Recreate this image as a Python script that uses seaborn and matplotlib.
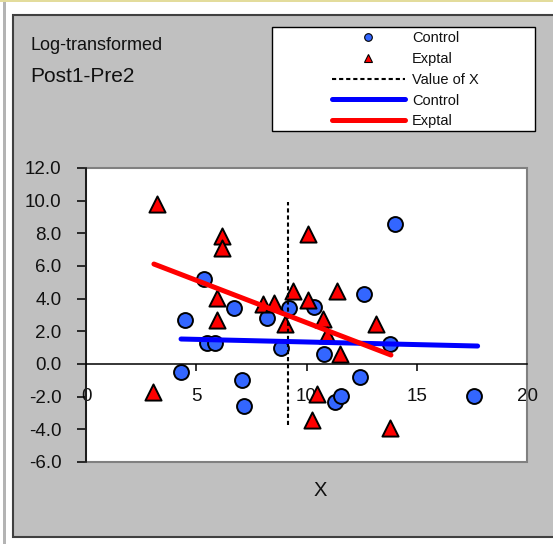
import matplotlib
matplotlib.use("Agg")
import matplotlib.pyplot as plt
from matplotlib.lines import Line2D
from matplotlib.patches import Rectangle
import seaborn as sns

# ==================== Data ====================
control_x = [5.35, 6.69, 4.47, 5.48, 5.83, 4.31, 7.06, 7.18, 8.84, 8.21,
             9.22, 10.35, 12.63, 14.03, 13.80, 10.79, 12.41, 11.28, 11.56, 17.59]
control_y = [5.19, 3.41, 2.71, 1.29, 1.29, -0.51, -0.96, -2.60, 0.98, 2.79,
             3.41, 3.49, 4.31, 8.57, 1.23, 0.62, -0.82, -2.34, -1.95, -1.95]

exptal_x = [3.24, 6.17, 6.17, 5.95, 5.93, 3.04, 8.01, 8.54, 9.04, 9.37,
            10.05, 10.05, 11.37, 10.77, 13.17, 10.95, 11.52, 10.47, 10.23, 13.77]
exptal_y = [9.81, 7.86, 7.10, 4.06, 2.67, -1.71, 3.69, 3.75, 2.46, 4.47,
            7.96, 3.90, 4.47, 2.73, 2.42, 1.80, 0.62, -1.85, -3.43, -3.90]

value_x_x = [9.17, 9.17]
value_x_y = [-3.75, 9.90]

control_fit_x = [4.31, 17.76]
control_fit_y = [1.53, 1.10]
exptal_fit_x = [3.08, 13.83]
exptal_fit_y = [6.12, 0.55]

x_ticks = [0, 5, 10, 15, 20]
y_ticks = [-6, -4, -2, 0, 2, 4, 6, 8, 10, 12]

legend_labels = ["Control", "Exptal", "Value of X", "Control", "Exptal"]

# ==================== Style ====================
sns.set_style("white")
plt.rcParams["font.family"] = ["Liberation Sans", "DejaVu Sans"]
plt.rcParams["axes.unicode_minus"] = False

COLOR_CTRL = "#3366FF"
COLOR_EXP = "#FF0000"
TEXT_COLOR = "#111111"

W, H = 553, 544
fig = plt.figure(figsize=(W / 100, H / 100), dpi=100, facecolor="white")

# outer frame decorations
fig.patches.append(Rectangle((0, 1 - 2 / H), 1, 2 / H, transform=fig.transFigure,
                             facecolor="#e3dc9c", edgecolor="none", zorder=-10))
fig.patches.append(Rectangle((3 / W, 0), 3 / W, 1 - 2 / H, transform=fig.transFigure,
                             facecolor="#b4b4b4", edgecolor="none", zorder=-10))
# chart area
fig.patches.append(Rectangle((13 / W, 1 - 537 / H), 1, (537 - 15) / H,
                             transform=fig.transFigure, facecolor="#c0c0c0",
                             edgecolor="#404040", linewidth=1.5, zorder=-9))
# legend box
fig.patches.append(Rectangle((272 / W, 1 - 131 / H), 263 / W, 104 / H,
                             transform=fig.transFigure, facecolor="white",
                             edgecolor="black", linewidth=1.0, zorder=-8))

ax = fig.add_axes([86 / W, 1 - 462 / H, (527 - 86) / W, (462 - 168) / H])
ax.set_facecolor("white")

sns.scatterplot(x=control_x, y=control_y, ax=ax, marker="o", s=115,
                color=COLOR_CTRL, edgecolor="black", linewidth=1.4, zorder=3)
sns.scatterplot(x=exptal_x, y=exptal_y, ax=ax, marker="^", s=135,
                color=COLOR_EXP, edgecolor="black", linewidth=1.4, zorder=4)
ax.plot(value_x_x, value_x_y, color="black", linewidth=1.5,
        linestyle=(0, (2.0, 1.4)), zorder=5)
sns.lineplot(x=control_fit_x, y=control_fit_y, ax=ax, color="#0000FF",
             linewidth=3.6, estimator=None, sort=False, zorder=6)
sns.lineplot(x=exptal_fit_x, y=exptal_fit_y, ax=ax, color=COLOR_EXP,
             linewidth=3.6, estimator=None, sort=False, zorder=7)

ax.set_xlim(0, 20)
ax.set_ylim(-6, 12)
ax.set_xticks(x_ticks)
ax.set_yticks(y_ticks)
ax.set_yticklabels([f"{v:.1f}" for v in y_ticks])
ax.set_xlabel("")
ax.set_ylabel("")

for side in ["top", "right"]:
    ax.spines[side].set_visible(False)
ax.spines["left"].set_color("black")
ax.spines["left"].set_linewidth(1.1)
ax.spines["bottom"].set_position(("data", 0))
ax.spines["bottom"].set_color("black")
ax.spines["bottom"].set_linewidth(1.1)
ax.add_patch(Rectangle((0, 0), 1, 1, transform=ax.transAxes, fill=False,
                       edgecolor="#808080", linewidth=1.5, clip_on=False, zorder=1))

ax.tick_params(axis="y", direction="out", length=6.5, width=1.1, pad=11,
               labelsize=13.5, labelcolor=TEXT_COLOR, color="black", left=True)
ax.tick_params(axis="x", direction="out", length=5, width=1.1, pad=12,
               labelsize=13.5, labelcolor=TEXT_COLOR, color="black", bottom=True)

# ==================== Texts ====================
fig.text(30 / W, 1 - 45 / H, "Log-transformed", fontsize=13, color=TEXT_COLOR,
         ha="left", va="center")
fig.text(30 / W, 1 - 77 / H, "Post1-Pre2", fontsize=15, color=TEXT_COLOR,
         ha="left", va="center")
fig.text(320 / W, 1 - 491 / H, "X", fontsize=14.5, color=TEXT_COLOR,
         ha="center", va="center")

# ==================== Legend ====================
handles = [
    Line2D([], [], marker="o", linestyle="none", markerfacecolor=COLOR_CTRL,
           markeredgecolor="black", markersize=5.5, markeredgewidth=0.8),
    Line2D([], [], marker="^", linestyle="none", markerfacecolor=COLOR_EXP,
           markeredgecolor="black", markersize=6, markeredgewidth=0.8),
    Line2D([], [], color="black", linewidth=1.5, linestyle=(0, (2.0, 1.4))),
    Line2D([], [], color="#0000FF", linewidth=3.6, solid_capstyle="round"),
    Line2D([], [], color=COLOR_EXP, linewidth=3.6, solid_capstyle="round"),
]
fig.legend(handles, legend_labels, loc="upper left",
           bbox_to_anchor=(332 / W, 1 - 31 / H), frameon=False, fontsize=10.5,
           handlelength=5.0, handletextpad=0.5, labelspacing=0.47,
           borderpad=0, borderaxespad=0, labelcolor=TEXT_COLOR)

fig.savefig("out.png", dpi=100)
